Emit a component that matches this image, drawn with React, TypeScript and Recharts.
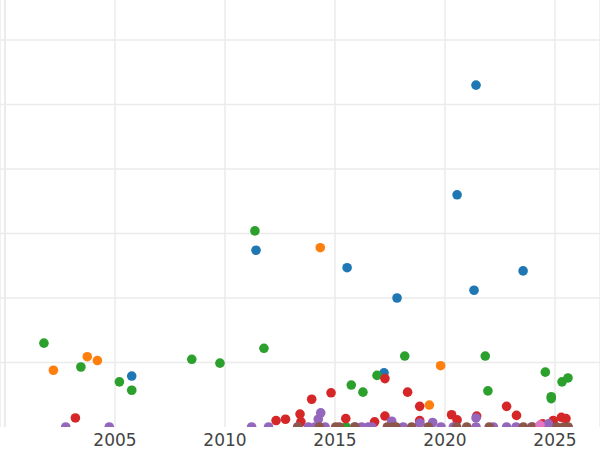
import React from "react";
import {
  ScatterChart,
  Scatter,
  XAxis,
  YAxis,
  CartesianGrid,
  ReferenceLine,
} from "recharts";

type Pt = { year: number; value: number };

const xTicks = [2005, 2010, 2015, 2020, 2025];
const yTicks = [0, 1, 2, 3, 4, 5, 6];
// no gridline drawn on the zero line
const gridValues = [1, 2, 3, 4, 5, 6];

const blue: Pt[] = [
  { year: 2005.76, value: 0.79 },
  { year: 2011.41, value: 2.74 },
  { year: 2015.55, value: 2.47 },
  { year: 2017.23, value: 0.84 },
  { year: 2017.82, value: 2.0 },
  { year: 2020.55, value: 3.6 },
  { year: 2021.32, value: 2.12 },
  { year: 2021.41, value: 5.3 },
  { year: 2023.55, value: 2.42 },
];

const orange: Pt[] = [
  { year: 2002.2, value: 0.88 },
  { year: 2003.74, value: 1.09 },
  { year: 2004.2, value: 1.03 },
  { year: 2014.33, value: 2.78 },
  { year: 2019.29, value: 0.34 },
  { year: 2019.8, value: 0.95 },
];

const green: Pt[] = [
  { year: 2001.77, value: 1.3 },
  { year: 2003.45, value: 0.93 },
  { year: 2005.2, value: 0.7 },
  { year: 2005.76, value: 0.57 },
  { year: 2008.49, value: 1.05 },
  { year: 2009.77, value: 0.99 },
  { year: 2011.36, value: 3.04 },
  { year: 2011.77, value: 1.22 },
  { year: 2015.5, value: 0 },
  { year: 2015.74, value: 0.65 },
  { year: 2016.27, value: 0.54 },
  { year: 2016.91, value: 0.8 },
  { year: 2018.17, value: 1.1 },
  { year: 2021.83, value: 1.1 },
  { year: 2021.95, value: 0.56 },
  { year: 2024.56, value: 0.85 },
  { year: 2024.83, value: 0.47 },
  { year: 2024.83, value: 0.44 },
  { year: 2025.32, value: 0.7 },
  { year: 2025.59, value: 0.76 },
];

const red: Pt[] = [
  { year: 2003.2, value: 0.14 },
  { year: 2012.32, value: 0.1 },
  { year: 2012.75, value: 0.12 },
  { year: 2013.41, value: 0.2 },
  { year: 2013.45, value: 0.08 },
  { year: 2013.94, value: 0.43 },
  { year: 2014.82, value: 0.53 },
  { year: 2015.49, value: 0.13 },
  { year: 2016.8, value: 0.08 },
  { year: 2017.27, value: 0.17 },
  { year: 2017.27, value: 0.75 },
  { year: 2018.3, value: 0.54 },
  { year: 2018.85, value: 0.32 },
  { year: 2018.85, value: 0.1 },
  { year: 2020.3, value: 0.19 },
  { year: 2020.55, value: 0.11 },
  { year: 2021.44, value: 0.17 },
  { year: 2022.8, value: 0.32 },
  { year: 2023.25, value: 0.18 },
  { year: 2024.44, value: 0.05 },
  { year: 2024.92, value: 0.1 },
  { year: 2025.29, value: 0.15 },
  { year: 2025.5, value: 0.13 },
];

const purple: Pt[] = [
  { year: 2002.76, value: 0 },
  { year: 2004.74, value: 0 },
  { year: 2011.21, value: 0 },
  { year: 2011.98, value: 0 },
  { year: 2013.3, value: 0 },
  { year: 2013.79, value: 0 },
  { year: 2014.09, value: 0 },
  { year: 2014.24, value: 0.12 },
  { year: 2014.35, value: 0.22 },
  { year: 2014.55, value: 0 },
  { year: 2015.89, value: 0 },
  { year: 2016.21, value: 0 },
  { year: 2016.51, value: 0 },
  { year: 2016.67, value: 0 },
  { year: 2017.58, value: 0.09 },
  { year: 2018.1, value: 0 },
  { year: 2018.86, value: 0.06 },
  { year: 2019.44, value: 0.07 },
  { year: 2019.82, value: 0 },
  { year: 2020.38, value: 0 },
  { year: 2021.41, value: 0.14 },
  { year: 2021.41, value: 0 },
  { year: 2022.2, value: 0 },
  { year: 2022.8, value: 0 },
  { year: 2023.23, value: 0 },
  { year: 2023.94, value: 0 },
  { year: 2024.7, value: 0.05 },
];

const brown: Pt[] = [
  { year: 2013.32, value: 0 },
  { year: 2014.29, value: 0 },
  { year: 2015.03, value: 0 },
  { year: 2015.2, value: 0 },
  { year: 2015.91, value: 0 },
  { year: 2017.38, value: 0 },
  { year: 2017.62, value: 0 },
  { year: 2017.77, value: 0 },
  { year: 2018.49, value: 0 },
  { year: 2019.24, value: 0 },
  { year: 2020.53, value: 0 },
  { year: 2020.99, value: 0 },
  { year: 2022.01, value: 0 },
  { year: 2023.56, value: 0 },
  { year: 2023.97, value: 0 },
  { year: 2025.08, value: 0 },
  { year: 2025.38, value: 0 },
  { year: 2025.6, value: 0 },
];

const pink: Pt[] = [{ year: 2024.32, value: 0.03 }];

const series = [
  { name: "blue", data: blue, color: "#1f77b4" },
  { name: "orange", data: orange, color: "#ff7f0e" },
  { name: "green", data: green, color: "#2ca02c" },
  { name: "red", data: red, color: "#d62728" },
  { name: "purple", data: purple, color: "#9467bd" },
  { name: "brown", data: brown, color: "#8c564b" },
  { name: "pink", data: pink, color: "#e377c2" },
];

const Dot = (props: any) => {
  const { cx, cy, fill } = props;
  return <circle cx={cx} cy={cy} r={4.8} fill={fill} />;
};

const App: React.FC = () => {
  return (
    <div style={{ position: "absolute", left: 0, top: 0, background: "#fff" }}>
      <ScatterChart
        width={600}
        height={450}
        margin={{ top: 0, right: 0, left: 0, bottom: 0 }}
      >
        <CartesianGrid
          stroke="#ebebeb"
          strokeWidth={1.5}
          horizontalValues={gridValues}
        />
        <ReferenceLine x={2000} stroke="#ebebeb" strokeWidth={2} />
        <XAxis
          type="number"
          dataKey="year"
          domain={[1999.7727, 2027.0455]}
          allowDataOverflow
          ticks={xTicks}
          height={23}
          axisLine={false}
          tickLine={false}
          tickSize={5}
          tickMargin={2}
          tick={{ fill: "#444", fontSize: 17, fontFamily: "DejaVu Sans" }}
        />
        <YAxis
          type="number"
          dataKey="value"
          domain={[0, 6.62]}
          allowDataOverflow
          ticks={yTicks}
          hide
        />
        {series.map((s) => (
          <Scatter
            key={s.name}
            name={s.name}
            data={s.data}
            fill={s.color}
            shape={<Dot />}
            isAnimationActive={false}
          />
        ))}
      </ScatterChart>
    </div>
  );
};

export default App;
